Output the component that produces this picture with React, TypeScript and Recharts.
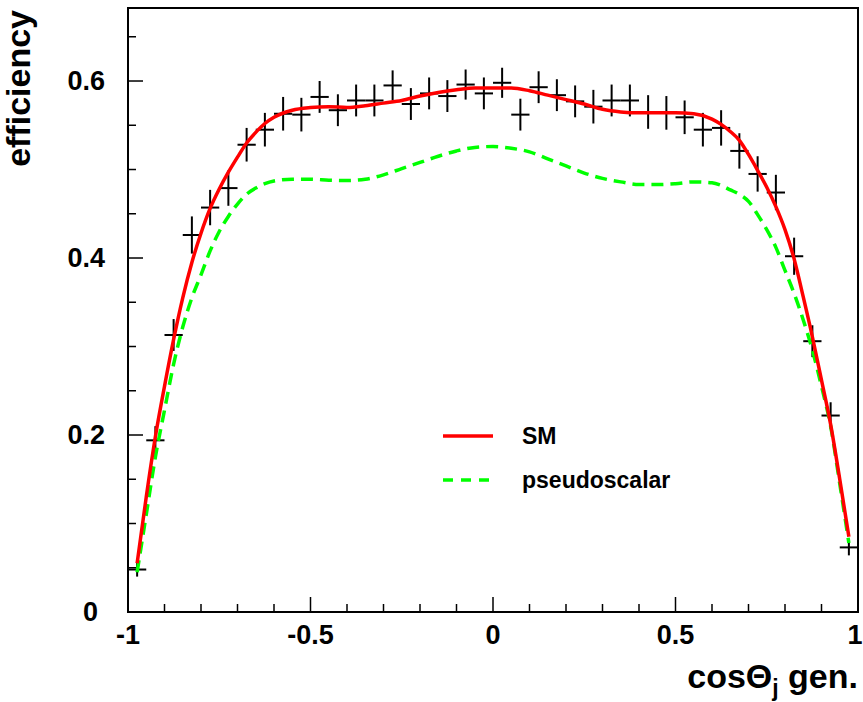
import { ComposedChart, Line, Scatter, ErrorBar, XAxis, YAxis, ReferenceArea, Legend } from 'recharts';

const FONT = '"Liberation Sans", Arial, Helvetica, sans-serif';
const Y_MAX = 0.6825;

const xTicks = [-1, -0.9, -0.8, -0.7, -0.6, -0.5, -0.4, -0.3, -0.2, -0.1, 0, 0.1, 0.2, 0.3, 0.4, 0.5, 0.6, 0.7, 0.8, 0.9, 1];
const yTicks = [0, 0.05, 0.1, 0.15, 0.2, 0.25, 0.3, 0.35, 0.4, 0.45, 0.5, 0.55, 0.6, 0.65];
const xMajorLabels: Record<string, string> = { '-1': '-1', '-0.5': '-0.5', '0': '0', '0.5': '0.5', '1': '1' };
const yMajorLabels: Record<string, string> = { '0': '0', '0.2': '0.2', '0.4': '0.4', '0.6': '0.6' };

// measured efficiency per bin (40 bins of width 0.05)
const binCenters = [
  -0.975, -0.925, -0.875, -0.825, -0.775, -0.725, -0.675, -0.625, -0.575, -0.525,
  -0.475, -0.425, -0.375, -0.325, -0.275, -0.225, -0.175, -0.125, -0.075, -0.025,
  0.025, 0.075, 0.125, 0.175, 0.225, 0.275, 0.325, 0.375, 0.425, 0.475,
  0.525, 0.575, 0.625, 0.675, 0.725, 0.775, 0.825, 0.875, 0.925, 0.975,
];
const effValues = [
  0.048, 0.194, 0.313, 0.426, 0.457, 0.479, 0.528, 0.545, 0.563, 0.562,
  0.582, 0.567, 0.578, 0.578, 0.595, 0.574, 0.586, 0.583, 0.596, 0.586,
  0.598, 0.562, 0.593, 0.584, 0.577, 0.571, 0.578, 0.578, 0.565, 0.564,
  0.559, 0.545, 0.547, 0.521, 0.495, 0.474, 0.402, 0.306, 0.222, 0.073,
];
const effErrors = [
  0.008, 0.016, 0.018, 0.021, 0.02, 0.02, 0.019, 0.019, 0.019, 0.019,
  0.018, 0.018, 0.018, 0.018, 0.017, 0.018, 0.018, 0.018, 0.017, 0.018,
  0.017, 0.018, 0.018, 0.018, 0.018, 0.019, 0.018, 0.018, 0.019, 0.019,
  0.019, 0.019, 0.02, 0.02, 0.02, 0.02, 0.021, 0.018, 0.015, 0.009,
];
const binHalfWidth = 0.025;

// fitted curves
const curveX = [
  -0.975, -0.95, -0.925, -0.9, -0.875, -0.85, -0.825, -0.8, -0.775, -0.75,
  -0.725, -0.7, -0.675, -0.65, -0.625, -0.6, -0.55, -0.5, -0.45, -0.4,
  -0.35, -0.3, -0.25, -0.2, -0.15, -0.1, -0.05, 0, 0.05, 0.1,
  0.15, 0.2, 0.25, 0.3, 0.35, 0.4, 0.45, 0.5, 0.55, 0.6,
  0.625, 0.65, 0.675, 0.7, 0.725, 0.75, 0.775, 0.8, 0.825, 0.85,
  0.875, 0.9, 0.925, 0.95, 0.975,
];
const smValues = [
  0.055, 0.13, 0.198, 0.255, 0.308, 0.355, 0.395, 0.428, 0.456, 0.478,
  0.497, 0.514, 0.53, 0.542, 0.552, 0.559, 0.567, 0.57, 0.571, 0.57,
  0.572, 0.575, 0.578, 0.583, 0.587, 0.59, 0.592, 0.592, 0.592, 0.589,
  0.584, 0.579, 0.574, 0.568, 0.565, 0.564, 0.564, 0.564, 0.563, 0.557,
  0.551, 0.543, 0.533, 0.517, 0.499, 0.48, 0.458, 0.432, 0.399, 0.356,
  0.311, 0.262, 0.212, 0.15, 0.085,
];
const psValues = [
  0.045, 0.11, 0.175, 0.228, 0.28, 0.322, 0.355, 0.381, 0.408, 0.43,
  0.447, 0.461, 0.472, 0.479, 0.484, 0.487, 0.489, 0.489, 0.488, 0.4875,
  0.489, 0.494, 0.501, 0.508, 0.515, 0.521, 0.525, 0.526, 0.524, 0.52,
  0.512, 0.504, 0.496, 0.49, 0.486, 0.483, 0.483, 0.484, 0.486, 0.485,
  0.482, 0.477, 0.472, 0.464, 0.449, 0.432, 0.412, 0.386, 0.36, 0.33,
  0.296, 0.255, 0.21, 0.145, 0.078,
];

const points = binCenters.map((x, i) => ({ x, y: effValues[i], ey: effErrors[i], ex: binHalfWidth }));
const smCurve = curveX.map((x, i) => ({ x, y: smValues[i] }));
const psCurve = curveX.map((x, i) => ({ x, y: psValues[i] }));

function XTick({ x, y, payload }: any) {
  const label = xMajorLabels[String(payload.value)];
  const lx = payload.value === 1 ? x - 3 : x;
  return (
    <g>
      <line x1={x} y1={y} x2={x} y2={y - (label ? 15 : 8)} stroke="#000" strokeWidth={1.5} />
      {label && (
        <text x={lx} y={y + 32} textAnchor="middle" fontFamily={FONT} fontWeight="bold" fontSize={27} fill="#000">
          {label}
        </text>
      )}
    </g>
  );
}

function YTick({ x, y, payload }: any) {
  const label = yMajorLabels[String(payload.value)];
  const lx = payload.value === 0 ? x - 30 : x - 23;
  return (
    <g>
      <line x1={x} y1={y} x2={x + (label ? 15 : 8)} y2={y} stroke="#000" strokeWidth={1.5} />
      {label && (
        <text x={lx} y={y + 9} textAnchor="end" fontFamily={FONT} fontWeight="bold" fontSize={27} fill="#000">
          {label}
        </text>
      )}
    </g>
  );
}

function YTitle() {
  return (
    <text transform="translate(30,10) rotate(-90)" textAnchor="end" fontFamily={FONT} fontWeight="bold" fontSize={34} fill="#000">
      efficiency
    </text>
  );
}

function XTitle() {
  return (
    <text x={858} y={688} textAnchor="end" fontFamily={FONT} fontWeight="bold" fontSize={34} fill="#000">
      cos{'\u0398'}
      <tspan fontSize={23} dy={8}>j</tspan>
      <tspan dy={-8}> gen.</tspan>
    </text>
  );
}

function LegendBox() {
  return (
    <svg width={280} height={90} style={{ display: 'block' }}>
      <line x1={13} y1={21} x2={63} y2={21} stroke="#ff0000" strokeWidth={3.5} />
      <text x={92} y={29} fontFamily={FONT} fontWeight="bold" fontSize={23} fill="#000">SM</text>
      <line x1={13} y1={65} x2={63} y2={65} stroke="#00ff00" strokeWidth={3.5} strokeDasharray="10 8" />
      <text x={92} y={73} fontFamily={FONT} fontWeight="bold" fontSize={23} fill="#000">pseudoscalar</text>
    </svg>
  );
}

export default function App() {
  return (
    <div style={{ position: 'absolute', left: 0, top: 0, background: '#fff' }}>
      <ComposedChart width={863} height={702} margin={{ top: 8, right: 5, left: 0, bottom: 0 }}>
        <XAxis
          type="number"
          dataKey="x"
          domain={[-1, 1]}
          ticks={xTicks}
          interval={0}
          tickSize={0}
          tickMargin={0}
          tickLine={false}
          tick={<XTick />}
          height={90}
          axisLine={{ stroke: '#000', strokeWidth: 2 }}
          allowDataOverflow
          label={XTitle}
        />
        <YAxis
          type="number"
          domain={[0, Y_MAX]}
          ticks={yTicks}
          interval={0}
          tickSize={0}
          tickMargin={0}
          tickLine={false}
          tick={<YTick />}
          width={128}
          axisLine={{ stroke: '#000', strokeWidth: 2 }}
          allowDataOverflow
          label={YTitle}
        />
        <ReferenceArea x1={-1} x2={1} y1={0} y2={Y_MAX} fill="none" fillOpacity={0} stroke="#000" strokeWidth={2} />
        <Scatter data={points} dataKey="y" shape={() => <g />} isAnimationActive={false}>
          <ErrorBar dataKey="ey" direction="y" width={0} stroke="#000" strokeWidth={2} isAnimationActive={false} />
          <ErrorBar dataKey="ex" direction="x" width={0} stroke="#000" strokeWidth={2} isAnimationActive={false} />
        </Scatter>
        <Line data={psCurve} dataKey="y" type="monotone" stroke="#00ff00" strokeWidth={3.5} strokeDasharray="12 7" dot={false} activeDot={false} isAnimationActive={false} />
        <Line data={smCurve} dataKey="y" type="monotone" stroke="#ff0000" strokeWidth={3.5} dot={false} activeDot={false} isAnimationActive={false} />
        <Legend
          layout="horizontal"
          verticalAlign="middle"
          align="center"
          content={() => <LegendBox />}
          wrapperStyle={{ left: 430, top: 415, width: 280, height: 90 }}
        />
      </ComposedChart>
    </div>
  );
}
